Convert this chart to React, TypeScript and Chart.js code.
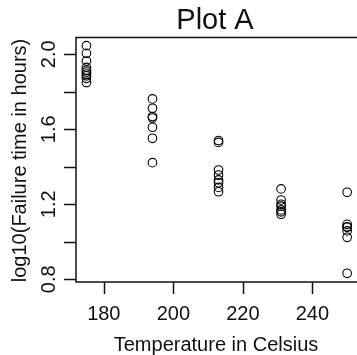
import React, { useEffect, useRef } from "react";
import { Chart, registerables } from "chart.js";

Chart.register(...registerables);

const temperatures = [175, 194, 213, 231, 250];
const logHours175 = [2.046, 2.005, 1.964, 1.93, 1.915, 1.905, 1.895, 1.885, 1.872, 1.849];
const logHours194 = [1.762, 1.712, 1.668, 1.66, 1.611, 1.552, 1.422];
const logHours213 = [1.54, 1.53, 1.383, 1.356, 1.33, 1.315, 1.29, 1.267];
const logHours231 = [1.282, 1.223, 1.2, 1.19, 1.17, 1.16, 1.147];
const logHours250 = [1.264, 1.093, 1.08, 1.077, 1.058, 1.024, 0.832];
const groups = [logHours175, logHours194, logHours213, logHours231, logHours250];

const xTicks = [180, 200, 220, 240];
const yTicks = [0.8, 1.0, 1.2, 1.4, 1.6, 1.8, 2.0];
const yTickLabels = ["0.8", "", "1.2", "", "1.6", "", "2.0"];

const title = "Plot A";
const xTitle = "Temperature in Celsius";
const yTitle = "log10(Failure time in hours)";

const FONT = '"Liberation Sans", Arial, Helvetica, sans-serif';

const rAxesPlugin = {
  id: "rAxes",
  afterDraw(chart: any) {
    const { ctx, chartArea, scales } = chart;
    const xs = scales.x;
    const ys = scales.y;
    const { left, top, bottom } = chartArea;
    const edge = chart.width + 3;
    ctx.save();
    ctx.strokeStyle = "#111";
    ctx.lineWidth = 1.5;
    // box (right edge falls just outside the canvas)
    ctx.beginPath();
    ctx.moveTo(edge, top);
    ctx.lineTo(left, top);
    ctx.lineTo(left, bottom);
    ctx.lineTo(edge, bottom);
    ctx.stroke();
    const tick = 12;
    ctx.beginPath();
    xTicks.forEach((v) => {
      const px = Math.round(xs.getPixelForValue(v)) + 0.5;
      ctx.moveTo(px, bottom);
      ctx.lineTo(px, bottom + tick);
    });
    yTicks.forEach((v) => {
      const py = Math.round(ys.getPixelForValue(v)) + 0.5;
      ctx.moveTo(left, py);
      ctx.lineTo(left - tick, py);
    });
    ctx.stroke();

    ctx.fillStyle = "#111";
    ctx.font = `20px ${FONT}`;
    ctx.textAlign = "center";
    ctx.textBaseline = "alphabetic";
    xTicks.forEach((v) => {
      ctx.fillText(String(v), xs.getPixelForValue(v), 320);
    });
    ctx.fillText(xTitle, 216, 351);

    yTicks.forEach((v, i) => {
      const lab = yTickLabels[i];
      if (!lab) return;
      ctx.save();
      ctx.translate(55, ys.getPixelForValue(v));
      ctx.rotate(-Math.PI / 2);
      ctx.fillText(lab, 0, 0);
      ctx.restore();
    });
    ctx.save();
    ctx.translate(26, 160.5);
    ctx.rotate(-Math.PI / 2);
    ctx.fillText(yTitle, 0, 0);
    ctx.restore();

    ctx.font = `29px ${FONT}`;
    ctx.fillText(title, 215, 28.5);
    ctx.restore();
  },
};

export default function App() {
  const ref = useRef<HTMLCanvasElement | null>(null);
  useEffect(() => {
    document.body.style.margin = "0";
    if (!ref.current) return;
    const points: { x: number; y: number }[] = [];
    groups.forEach((g, i) => g.forEach((y) => points.push({ x: temperatures[i], y })));
    const chart = new Chart(ref.current, {
      type: "scatter",
      data: {
        datasets: [
          {
            data: points,
            pointStyle: "circle",
            pointRadius: 4.3,
            pointBorderWidth: 1.1,
            pointBorderColor: "#000",
            pointBackgroundColor: "rgba(0,0,0,0)",
            pointHoverRadius: 4.3,
            clip: false,
          },
        ],
      },
      options: {
        animation: false,
        responsive: false,
        devicePixelRatio: 1,
        events: [],
        layout: { padding: { left: 76, top: 37.5, right: 0, bottom: 73 } },
        plugins: { legend: { display: false }, tooltip: { enabled: false }, title: { display: false } },
        scales: {
          x: { type: "linear", display: false, min: 172, max: 251.28 },
          y: { type: "linear", display: false, min: 0.7856, max: 2.0896 },
        },
      },
      plugins: [rAxesPlugin],
    });
    return () => chart.destroy();
  }, []);
  return (
    <div style={{ position: "fixed", left: 0, top: 0, width: 357, height: 355, background: "#fff" }}>
      <canvas ref={ref} width={357} height={355} style={{ width: 357, height: 355 }} />
    </div>
  );
}
